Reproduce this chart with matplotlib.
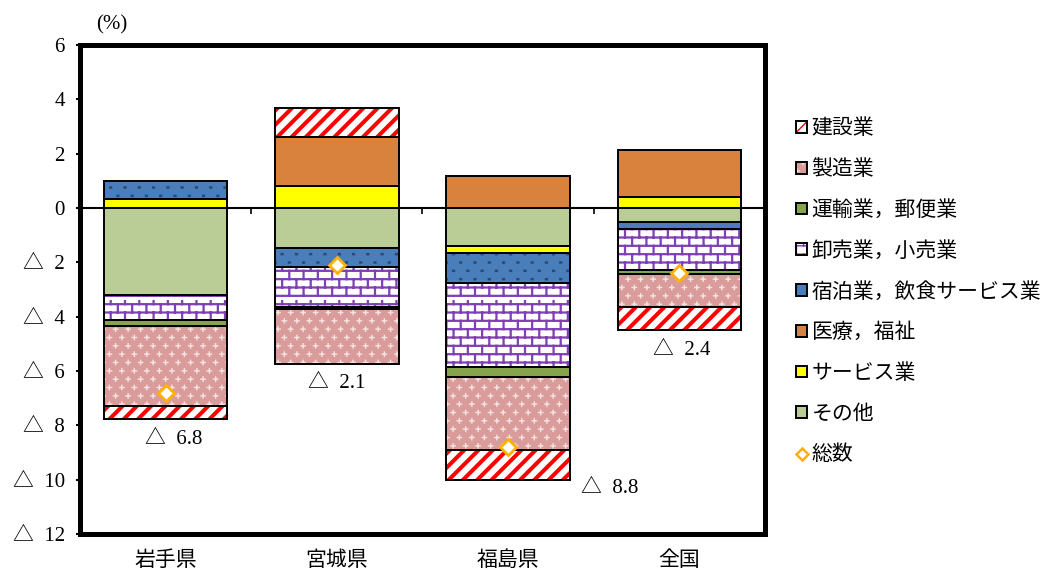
import warnings
import numpy as np
import matplotlib
matplotlib.use('Agg')
import matplotlib.pyplot as plt
from matplotlib import hatch as mhatch
from matplotlib.path import Path
from matplotlib.lines import Line2D
from matplotlib.legend_handler import HandlerTuple

warnings.filterwarnings('ignore')

# 寄与度（％）
regions = ['岩手県', '宮城県', '福島県', '全国']
industries = ['建設業', '製造業', '運輸業，郵便業', '卸売業，小売業',
              '宿泊業，飲食サービス業', '医療，福祉', 'サービス業', 'その他']
kensetsu = [-0.50, 1.06, -1.09, -0.85]
seizo = [-2.91, -2.06, -2.70, -1.21]
unyu = [-0.25, -0.06, -0.37, -0.13]
oroshi = [-0.91, -1.47, -3.09, -1.52]
shukuhaku = [0.66, -0.70, -1.08, -0.26]
iryo = [0.00, 1.80, 1.17, 1.73]
service = [0.32, 0.82, -0.28, 0.39]
sonota = [-3.20, -1.47, -1.39, -0.52]
total = [-6.8, -2.1, -8.8, -2.4]

values = dict(zip(industries, [kensetsu, seizo, unyu, oroshi, shukuhaku,
                               iryo, service, sonota]))


class _Hatch(mhatch.HatchPatternBase):
    char = '?'

    def __init__(self, hatch, density):
        self.n = hatch.count(self.char)
        segs = self.segments() if self.n else np.empty((0, 2))
        self._segs = segs
        self.num_vertices = len(segs)

    def set_vertices_and_codes(self, vertices, codes):
        vertices[:] = self._segs
        codes[0::2] = Path.MOVETO
        codes[1::2] = Path.LINETO


class StripeHatch(_Hatch):
    """'r' : wide diagonal stripes"""
    char = 'r'

    def segments(self):
        k = 7
        pts = []
        for j in range(-k, k + 1):
            c = j / k
            pts += [[-1.0, -1.0 + c], [2.0, 2.0 + c]]
        return np.array(pts)


class BrickHatch(_Hatch):
    """'b' : staggered brick wall"""
    char = 'b'

    def segments(self):
        rows, cols = 12, 7
        h = 1.0 / rows
        pts = []
        for k in range(rows):
            y = (k + 0.5) * h
            pts += [[0.0, y], [1.0, y]]
            shift = 0.5 / cols if k % 2 else 0.0
            for j in range(cols):
                xv = (j + 0.25) / cols + shift
                pts += [[xv, y], [xv, y + h]]
        return np.array(pts)


class CrossHatch(_Hatch):
    """'c' : small staggered plus signs"""
    char = 'c'

    def segments(self):
        rows, cols, a = 12, 8, 0.022
        pts = []
        for k in range(rows):
            y = (k + 0.5) / rows
            shift = 0.5 / cols if k % 2 else 0.0
            for j in range(cols):
                xv = (j + 0.25) / cols + shift
                pts += [[xv - a, y], [xv + a, y], [xv, y - a], [xv, y + a]]
        return np.array(pts)


class DotHatch(_Hatch):
    """'d' : small staggered dots"""
    char = 'd'

    def segments(self):
        rows, cols, a = 12, 7, 0.004
        pts = []
        for k in range(rows):
            y = (k + 0.5) / rows
            shift = 0.5 / cols if k % 2 else 0.0
            for j in range(cols):
                xv = (j + 0.25) / cols + shift
                pts += [[xv - a, y], [xv + a, y]]
        return np.array(pts)


mhatch._hatch_types.extend([StripeHatch, BrickHatch, CrossHatch, DotHatch])

styles = {
    '建設業': dict(face='white', hatch='r', hcolor='#ff0000', hlw=2.9),
    '製造業': dict(face='#d99c9a', hatch='c', hcolor='#f6e2e2', hlw=1.0),
    '運輸業，郵便業': dict(face='#86a44c', hatch=None),
    '卸売業，小売業': dict(face='white', hatch='b', hcolor='#7f3fb5', hlw=1.6),
    '宿泊業，飲食サービス業': dict(face='#4a7ebb', hatch='d', hcolor='#2a4a75', hlw=1.8),
    '医療，福祉': dict(face='#d9823e', hatch=None),
    'サービス業': dict(face='#ffff00', hatch=None),
    'その他': dict(face='#bbcd96', hatch=None),
}

num_font = ['Liberation Serif', 'Noto Sans CJK JP']
jp_font = ['Noto Sans CJK JP', 'DejaVu Sans']
fs = 15

fig = plt.figure(figsize=(10.46, 5.70), dpi=100)
ax = fig.add_axes([80 / 1046, 1 - 534 / 570, 685 / 1046, 489 / 570])

x = np.arange(len(regions))
width = 0.72

pos_base = np.zeros(len(regions))
neg_base = np.zeros(len(regions))
handles = {}
for name in reversed(industries):
    v = np.array(values[name])
    bottom = np.where(v >= 0, pos_base, neg_base)
    st = styles[name]
    with plt.rc_context({'hatch.color': st.get('hcolor', 'black'),
                         'hatch.linewidth': st.get('hlw', 1.0)}):
        fill = ax.bar(x, v, width, bottom=bottom, color=st['face'],
                      hatch=st['hatch'], linewidth=0, zorder=2)
        for p in fill:
            if hasattr(p, 'set_hatch_linewidth'):
                p.set_hatch_linewidth(st.get('hlw', 1.0))
    edge = ax.bar(x, v, width, bottom=bottom, fill=False,
                  edgecolor='black', linewidth=1.4, zorder=3)
    handles[name] = (fill[0], edge[0])
    pos_base += np.where(v > 0, v, 0)
    neg_base += np.where(v < 0, v, 0)

ax.plot(x, total, linestyle='none', marker='D', markersize=8.5,
        markerfacecolor='white', markeredgecolor='#ffb000',
        markeredgewidth=2, zorder=5)

# 総数のラベル（棒の下）
label_offsets = [(8, -20), (0, -19), (102, -9), (2, -21)]
for xi, t, b, off in zip(x, total, neg_base, label_offsets):
    ax.annotate(f'△  {abs(t):.1f}', (xi, b), xytext=off,
                textcoords='offset pixels', ha='center', va='center',
                fontsize=fs, family=num_font)

ax.axhline(0, color='black', linewidth=1.5, zorder=1.5)
ax.vlines(x[:-1] + 0.5, 0, -0.22, color='black', linewidth=1.2, zorder=1.5)

ax.set_xlim(-0.5, len(regions) - 0.5)
ax.set_ylim(-12, 6)
yt = np.arange(6, -13, -2)
ax.set_yticks(yt)
ax.set_yticklabels([f'△  {abs(t)}' if t < 0 else str(t) for t in yt],
                   family=num_font, fontsize=fs)
ax.set_xticks(x)
ax.set_xticklabels(regions, family=jp_font, fontsize=fs)
ax.tick_params(axis='x', length=0, pad=11)
ax.tick_params(axis='y', direction='out', length=3, width=1.5, pad=8)
for s in ax.spines.values():
    s.set_linewidth(3.6)

ax.annotate('(%)', (0.046, 1.042), xycoords='axes fraction', ha='center',
            va='center', fontsize=fs, family=num_font)

leg_handles = [handles[n] for n in industries]
leg_handles.append(Line2D([], [], linestyle='none', marker='D', markersize=6,
                          markerfacecolor='white', markeredgecolor='#ffb000',
                          markeredgewidth=1.8))
leg = fig.legend(leg_handles, industries + ['総数'], loc='upper left',
                 bbox_to_anchor=(786 / 1046, 1 - 107 / 570),
                 bbox_transform=fig.transFigure, frameon=False,
                 handler_map={tuple: HandlerTuple(ndivide=1, pad=0)},
                 handlelength=0.5, handleheight=0.5, handletextpad=0.22,
                 labelspacing=0.9, borderpad=0,
                 prop={'family': jp_font, 'size': fs})

fig.savefig('out.png', dpi=100)
